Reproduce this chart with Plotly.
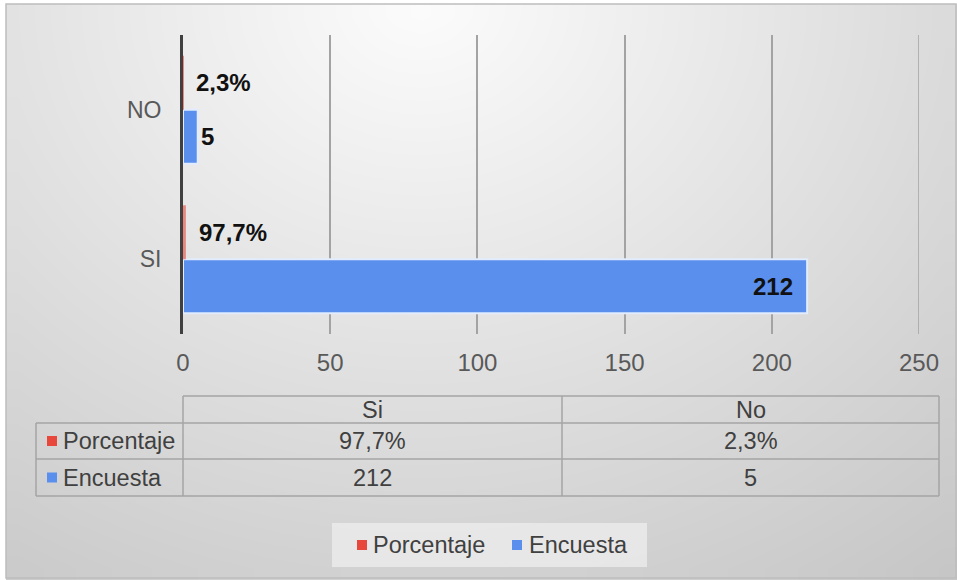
import numpy as np
import plotly.graph_objects as go

# ---- data ----
categories = ["SI", "NO"]          # bottom to top
encuesta = [212, 5]
porcentaje = [0.977, 0.023]
table_columns = ["Si", "No"]
series_names = ["Porcentaje", "Encuesta"]
x_ticks = [0, 50, 100, 150, 200, 250]

W, H = 957, 580
FONT = "Liberation Sans"
TXT = "#404040"
BLUE = "#5a8fee"
RED = "#e8473c"
GRID = "#a3a3a3"


def fmt_pct(v):
    return f"{v * 100:.1f}%".replace(".", ",")


def px(x):
    return x / W


def py(y):
    return 1 - y / H


fig = go.Figure()

# ---- soft radial background of the chart area ----
gx = np.linspace(6, W, 41)
gy = np.linspace(4, H, 25)
cx = (gx[:-1] + gx[1:]) / 2
cy = (gy[:-1] + gy[1:]) / 2
XX, YY = np.meshgrid(cx, cy)
rr = np.sqrt(((XX - 420) / 820) ** 2 + (YY / 700) ** 2)
zz = 252 - 52 * np.clip(rr, 0, 1.2)
fig.add_trace(go.Heatmap(
    x=gx, y=gy, z=zz, zsmooth="best", showscale=False, hoverinfo="skip",
    colorscale=[[0, "rgb(180,180,180)"], [1, "rgb(255,255,255)"]],
    zmin=180, zmax=255, xaxis="x", yaxis="y",
))

# ---- bars (first trace sits lowest in each group) ----
fig.add_trace(go.Bar(
    name="Encuesta", y=categories, x=encuesta, orientation="h",
    marker=dict(color=BLUE, line=dict(color="rgba(225,236,253,1)", width=2)),
    xaxis="x2", yaxis="y2", showlegend=False,
))
fig.add_trace(go.Bar(
    name="Porcentaje", y=categories, x=porcentaje, orientation="h",
    marker=dict(color=RED, opacity=0.6, line=dict(width=0)),
    xaxis="x2", yaxis="y2", showlegend=False,
))

annotations = []
lbl_font = dict(family=FONT, size=24, color="#111111")

# value labels on the bars
for cat, v in zip(categories, porcentaje):
    annotations.append(dict(
        x=v, y=cat, xref="x2", yref="y2", text=f"<b>{fmt_pct(v)}</b>",
        showarrow=False, xanchor="left", yanchor="middle", xshift=11, yshift=27,
        font=lbl_font,
    ))
for cat, v in zip(categories, encuesta):
    inside = v > 100
    annotations.append(dict(
        x=v, y=cat, xref="x2", yref="y2", text=f"<b>{v}</b>",
        showarrow=False, xanchor="right" if inside else "left", yanchor="middle",
        xshift=-12 if inside else 1, yshift=-27, font=lbl_font,
    ))

shapes = []

# gridline at the far end of the value axis
shapes.append(dict(type="line", xref="x2", yref="y2 domain",
                   x0=x_ticks[-1], x1=x_ticks[-1], y0=0, y1=1,
                   line=dict(color=GRID, width=1.5), layer="above"))

# ---- data table under the axis ----
tcol = "#a5a5a5"
x_left, x_lab, x_mid, x_right = 36, 183, 562, 939
y_head, y_r1, y_r2, y_bot = 396, 423, 459, 496


def hline(x0, x1, y):
    shapes.append(dict(type="line", xref="paper", yref="paper",
                       x0=px(x0), x1=px(x1), y0=py(y), y1=py(y),
                       line=dict(color=tcol, width=1.5), layer="above"))


def vline(x, y0, y1):
    shapes.append(dict(type="line", xref="paper", yref="paper",
                       x0=px(x), x1=px(x), y0=py(y0), y1=py(y1),
                       line=dict(color=tcol, width=1.5), layer="above"))


hline(x_lab, x_right, y_head)
for yy in (y_r1, y_r2, y_bot):
    hline(x_left, x_right, yy)
vline(x_left, y_r1, y_bot)
for xx in (x_lab, x_mid, x_right):
    vline(xx, y_head, y_bot)

tfont = dict(family=FONT, size=23.5, color=TXT)
col_centers = [(x_lab + x_mid) / 2, (x_mid + x_right) / 2]
row_centers = [(y_head + y_r1) / 2, (y_r1 + y_r2) / 2, (y_r2 + y_bot) / 2]

# header row (categories list runs bottom-to-top, table runs Si, No)
for name, xc in zip(table_columns, col_centers):
    annotations.append(dict(x=px(xc), y=py(row_centers[0]), xref="paper", yref="paper",
                            text=name, showarrow=False, font=tfont,
                            xanchor="center", yanchor="middle"))
pct_by_col = [porcentaje[categories.index(c.upper())] for c in table_columns]
enc_by_col = [encuesta[categories.index(c.upper())] for c in table_columns]
for xc, v in zip(col_centers, pct_by_col):
    annotations.append(dict(x=px(xc), y=py(row_centers[1]), xref="paper", yref="paper",
                            text=fmt_pct(v), showarrow=False, font=tfont,
                            xanchor="center", yanchor="middle"))
for xc, v in zip(col_centers, enc_by_col):
    annotations.append(dict(x=px(xc), y=py(row_centers[2]), xref="paper", yref="paper",
                            text=str(v), showarrow=False, font=tfont,
                            xanchor="center", yanchor="middle"))

# row headers with colour keys
for name, color, yc in zip(series_names, [RED, BLUE], row_centers[1:]):
    shapes.append(dict(type="rect", xref="paper", yref="paper",
                       x0=px(47), x1=px(57), y0=py(yc + 5), y1=py(yc - 5),
                       fillcolor=color, line=dict(width=0), layer="above"))
    annotations.append(dict(x=px(61), y=py(yc), xref="paper", yref="paper",
                            text=name, showarrow=False, font=tfont,
                            xanchor="left", yanchor="middle"))

# ---- legend ----
shapes.append(dict(type="rect", xref="paper", yref="paper",
                   x0=px(332), x1=px(647), y0=py(567), y1=py(523),
                   fillcolor="rgba(238,238,238,0.75)", line=dict(width=0), layer="above"))
for name, color, xs, xt in zip(series_names, [RED, BLUE], [357, 512], [371, 527]):
    shapes.append(dict(type="rect", xref="paper", yref="paper",
                       x0=px(xs), x1=px(xs + 10), y0=py(550), y1=py(540),
                       fillcolor=color, line=dict(width=0), layer="above"))
    annotations.append(dict(x=px(xt), y=py(545), xref="paper", yref="paper",
                            text=name, showarrow=False, font=tfont,
                            xanchor="left", yanchor="middle"))

# outer chart border
shapes.append(dict(type="rect", xref="paper", yref="paper",
                   x0=px(6), x1=px(956), y0=py(578), y1=py(4),
                   line=dict(color="#bdbdbd", width=1.5), layer="above"))

fig.update_layout(
    width=W, height=H,
    margin=dict(l=0, r=0, t=0, b=0),
    paper_bgcolor="white",
    plot_bgcolor="rgba(0,0,0,0)",
    barmode="group", bargap=0.278, bargroupgap=0,
    font=dict(family=FONT, color=TXT),
    xaxis=dict(domain=[0, 1], range=[0, W], visible=False, fixedrange=True),
    yaxis=dict(domain=[0, 1], range=[H, 0], visible=False, fixedrange=True),
    xaxis2=dict(
        domain=[px(183), px(919)], anchor="y2", range=[0, 250],
        tickvals=x_ticks, showgrid=True, gridcolor=GRID, gridwidth=1.5,
        zeroline=False, showline=False, automargin=False,
        ticks="outside", ticklen=7, tickcolor="rgba(0,0,0,0)",
        tickfont=dict(family=FONT, size=24, color="#595959"),
    ),
    yaxis2=dict(
        domain=[py(334), py(35)], anchor="x2", type="category",
        categoryorder="array", categoryarray=categories,
        showline=True, linecolor="#404040", linewidth=3,
        showgrid=False, zeroline=False, automargin=False,
        ticks="outside", ticklen=14, tickcolor="rgba(0,0,0,0)",
        tickfont=dict(family=FONT, size=23, color="#595959"),
    ),
    shapes=shapes,
    annotations=annotations,
    showlegend=False,
)

fig.write_html("out.html")
